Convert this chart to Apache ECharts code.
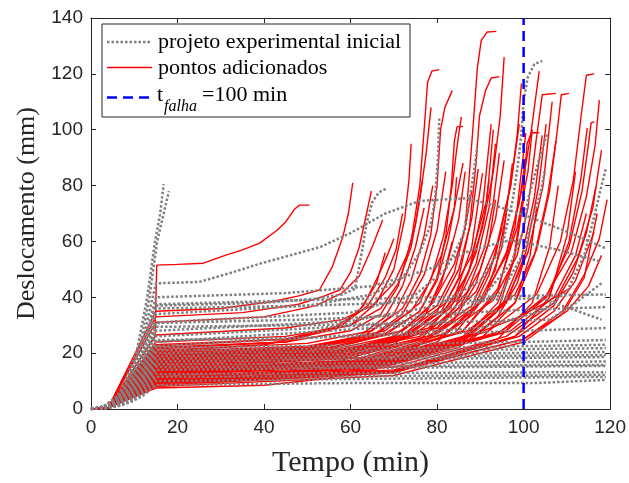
<!DOCTYPE html>
<html><head><meta charset="utf-8">
<script src="https://cdn.jsdelivr.net/npm/echarts@6/dist/echarts.min.js"></script>
<style>html,body{margin:0;padding:0;background:#fff}#c{width:629px;height:483px}</style>
</head><body><div id="c"></div>
<script>
// axis ticks
const xTicks = [0, 20, 40, 60, 80, 100, 120];
const yTicks = [0, 20, 40, 60, 80, 100, 120, 140];
const failureTime = 100;
const legendLabels = ['projeto experimental inicial', 'pontos adicionados', 't', 'falha', '=100 min'];

// initial experimental design (gray dotted), flat [t, y, t, y, ...]
const grayCurves = [
  [0,0, 3,1, 6.5,5, 10.5,20, 13,40, 14.8,60, 16,70, 16.8,80.5],
  [0,0, 3,1, 7,5, 11,20, 13.5,40, 15.3,60, 16.8,70, 18,78],
  [0,0, 3,0.9, 6,4.5, 9,12.2, 12,24.8, 15,45, 25,45.5, 32,48.6, 39,52, 46,55, 53,58, 60,63, 68,70, 76,74.5, 87,75.5, 93,73, 100,69.5, 110,63.5, 119,57.5],
  [0,0, 3,0.74, 6,3.7, 9,10, 12,20.4, 15,37, 40,38, 52,39.5, 58,41, 61,43, 62,51, 62.8,58, 63.7,66.6, 65,74, 66.5,77.5, 68.3,79],
  [0,0, 3,0.68, 6,3.4, 9,9.2, 12,18.7, 15,34, 50,37, 65,41, 72,47, 76,56, 78.5,66, 79.5,75, 80.2,90, 80.5,104],
  [0,0, 3,0.62, 6,3.1, 9,8.4, 12,17, 15,31, 60,34.5, 75,41, 82,50, 86,62, 87.5,75, 88.5,85, 89.3,94],
  [0,0, 3,0.56, 6,2.8, 9,7.6, 12,15.4, 15,28, 60,31.5, 80,37, 90,46, 95,58, 97.5,75, 98.6,86.6, 99.5,98.8, 100,110.6, 101,119, 102.5,123.5, 104.3,124.6],
  [0,0, 3,0.52, 6,2.6, 9,7, 12,14.3, 15,26, 70,30.5, 90,39, 97,52, 100,64, 101,75, 103.3,88, 105.5,99],
  [0,0, 3,0.48, 6,2.4, 9,6.5, 12,13.2, 15,24, 80,30.5, 95,42, 100,56, 102,68, 104,78, 105,86],
  [0,0, 3,0.45, 6,2.25, 9,6.1, 12,12.4, 15,22.5, 90,29, 104,35, 110,42, 114,55, 116.5,70, 118,80, 119,86],
  [0,0, 3,0.8, 6,4, 9,10.8, 12,22, 15,40, 45,41.5, 65,44, 78,50, 88,57, 97,60.5, 108,57, 118,52.7],
  [0,0, 3,0.75, 6,3.75, 9,10.1, 12,20.6, 15,37.5, 50,39, 80,40, 100,40.5, 119,41],
  [0,0, 3,0.72, 6,3.6, 9,9.7, 12,19.8, 15,36, 50,37, 80,38.5, 104,39.7, 118,32],
  [0,0, 3,0.62, 6,3.1, 9,8.3, 12,16.9, 15,30.8, 50,32, 80,34, 100,35.5, 119,36.5],
  [0,0, 3,0.59, 6,2.9, 9,7.9, 12,16.2, 15,29.4, 50,30, 80,31, 106,32, 112,38, 118,45],
  [0,0, 3,0.49, 6,2.5, 9,6.7, 12,13.6, 15,24.7, 50,25.5, 80,27, 100,28, 119,29],
  [0,0, 3,0.44, 6,2.2, 9,5.9, 12,12.1, 15,22, 50,22.5, 80,23.5, 100,24, 119,24.7],
  [0,0, 3,0.42, 6,2.1, 9,5.7, 12,11.6, 15,21, 50,21.5, 80,22, 100,22.5, 119,23],
  [0,0, 3,0.4, 6,2, 9,5.4, 12,11, 15,20, 50,20.5, 80,21, 100,21.4, 119,21.8],
  [0,0, 3,0.38, 6,1.9, 9,5.1, 12,10.5, 15,19, 50,19.4, 80,19.8, 100,20.1, 119,20.4],
  [0,0, 3,0.36, 6,1.8, 9,4.9, 12,9.9, 15,18, 50,18.4, 80,18.8, 100,19.1, 119,19.3],
  [0,0, 3,0.34, 6,1.7, 9,4.6, 12,9.4, 15,17, 50,17.5, 80,18, 100,18.3, 119,18.6],
  [0,0, 3,0.32, 6,1.6, 9,4.3, 12,8.8, 15,16, 50,16.3, 80,16.6, 100,16.8, 119,17],
  [0,0, 3,0.3, 6,1.5, 9,4.1, 12,8.3, 15,15, 50,15.3, 80,15.5, 100,15.7, 119,15.8],
  [0,0, 3,0.28, 6,1.4, 9,3.8, 12,7.7, 15,14, 50,14.5, 80,14.9, 100,15.2, 119,15.4],
  [0,0, 3,0.25, 6,1.25, 9,3.4, 12,6.9, 15,12.5, 50,12.8, 80,13, 100,13.1, 119,13.2],
  [0,0, 3,0.23, 6,1.15, 9,3.1, 12,6.3, 15,11.5, 50,11.7, 80,11.9, 100,12, 119,12.2],
  [0,0, 3,0.2, 6,1, 9,2.7, 12,5.5, 15,10, 50,10.6, 80,11, 100,11.3, 119,11.5],
  [0,0, 3,0.17, 6,0.86, 9,2.3, 12,4.7, 15,8.6, 60,9.3, 103,9.3, 119,10.4]
];

// added points (red), flat [t, y, t, y, ...]
const redCurves = [
  [0,0, 4,0.5, 14.8,26, 15.2,51.5, 20,51.8, 26,52.2, 31,55, 35,57, 39,59.4, 43,64, 45,67, 47,71.5, 48.2,73, 50.5,73],
  [0,0, 4,0.5, 15,35, 30,36, 42,38.5, 48,40.5, 52.8,42.6, 55.8,51, 58.2,61.6, 59.5,70, 60.5,81],
  [0,0, 4,0.5, 15,33, 35,34.5, 48,37.5, 54,40.5, 57.5,42.6, 60,49, 62,58, 63.7,70, 64.8,78],
  [0,0, 4,0.5, 15,31, 40,33, 52,37, 58,41.5, 62,47.5, 65,58, 67.4,67.7],
  [0,0, 4,0.5, 15,26.5, 45,29, 58,32, 65,37, 70,45, 73,55, 75,66, 76.6,82],
  [0,0, 4,0.5, 15,24, 45,26, 60,30, 67,36, 71,45, 74,58, 76,75, 77.5,92, 78.6,108],
  [0,0, 4,0.5, 15,22, 45,24, 60,28, 67,34, 71,44, 74,60, 76,80, 77,100, 77.8,117, 78.8,121, 80.5,121.5],
  [0,0, 4,0.5, 15,21, 50,23.5, 65,28, 72,36, 76,48, 78.5,62, 80,80, 80.8,100, 81.8,108, 83.5,114],
  [0,0, 4,0.5, 15,20.5, 50,22.5, 66,27, 74,35, 78.5,46, 81.5,62, 83.5,80, 84.7,95, 85.6,104.6],
  [0,0, 4,0.5, 15,20, 50,22, 68,27, 76,35, 80,47, 82,62, 83.3,80, 84,96, 84.6,101, 86,101.2],
  [0,0, 4,0.5, 15,19.5, 50,21.5, 68,26.5, 76,35, 80,46, 82.5,60, 84,72, 84.5,83],
  [0,0, 4,0.5, 15,19, 55,22, 72,28, 80,37, 84,49, 86.5,65, 88.2,98.8, 89.3,122, 90.2,132, 91.6,135, 93.7,135.2],
  [0,0, 4,0.5, 15,18.5, 55,21, 73,27, 82,36, 87,48, 90.5,65, 93,85, 94.6,105, 95.5,126],
  [0,0, 4,0.5, 15,18, 55,20.5, 73,26, 81,35, 85,47, 87.5,65, 89,88, 89.8,105, 91.2,114, 92.5,118.5, 94.4,119],
  [0,0, 4,0.5, 15,17.5, 55,20, 74,26, 83,36, 87.5,50, 90.5,72, 92.5,102],
  [0,0, 4,0.5, 15,17, 55,19.5, 76,26, 85,36, 90,50, 93.5,68, 95.5,89],
  [0,0, 4,0.5, 15,16.5, 60,19.5, 78,26, 88,37, 93.5,55, 97,80, 98.5,98, 99.5,116.6],
  [0,0, 4,0.5, 15,16, 60,19, 80,27, 90,38, 96,55, 99.5,78, 101.8,100, 103.6,121],
  [0,0, 4,0.5, 15,15.5, 60,18.5, 82,27, 93,39, 98.5,55, 101,72, 102.8,95, 104.3,112.5, 107.5,113],
  [0,0, 4,0.5, 15,15, 65,18.5, 87,28, 98,41, 103,57, 106,78, 107.8,100, 108.7,112.5, 110.5,113],
  [0,0, 4,0.5, 15,14.5, 70,18, 92,28, 103,41, 108.5,60, 111.5,82, 113.3,105, 114.5,119.5, 116.3,120],
  [0,0, 4,0.5, 15,14, 70,17.5, 94,27, 105,40, 111,56, 114.5,76, 116.5,94, 117.5,110.6],
  [0,0, 4,0.5, 15,13.5, 70,17, 95,28, 105.5,41, 110.5,58, 113.5,78, 115,95, 115.6,102.5, 116.3,102.8],
  [0,0, 4,0.5, 15,13, 65,17, 86,26, 96,39, 101,56, 104.5,80, 106.6,110],
  [0,0, 4,0.5, 15,12.5, 65,16, 86,25, 96,38, 100.5,56, 103.5,80, 105.2,102],
  [0,0, 4,0.5, 15,12, 65,15.5, 86,24.5, 95,37, 99.5,54, 102.5,76, 104.3,98],
  [0,0, 4,0.5, 15,11.5, 65,15, 88,25, 98,38, 102.5,55, 105.5,76, 107.5,96],
  [0,0, 4,0.5, 15,11, 70,15, 96,26, 107,38, 112.5,54, 116,72, 118,92.7],
  [0,0, 4,0.5, 15,10.5, 65,14.5, 86,24, 94,35, 97.5,52, 99.8,75, 100.8,95, 101.8,98.8, 103.6,99],
  [0,0, 4,0.5, 15,10, 70,14, 98,26, 107,37, 111.5,49, 114.5,63, 116.7,79.5],
  [0,0, 4,0.5, 15,9.5, 70,13.5, 99,26, 107,35, 112,46, 116.3,63.4],
  [0,0, 4,0.5, 15,9, 70,13, 100,25, 109,35, 114,48, 117.5,61, 119.3,75],
  [0,0, 4,0.5, 15,7.5, 40,8.5, 55,11, 67,17, 80,23, 90,27.6, 99,33, 105,38, 110.5,43],
  [0,0, 4,0.5, 15,22.5, 45,25, 58,30, 64,37, 68,47, 70.5,57, 72,70],
  [0,0, 4,0.5, 15,21.5, 45,24, 58,30, 63,37, 66.5,48, 68.5,55, 70,61],
  [0,0, 4,0.5, 15,23, 45,25, 60,30, 66,38, 70,50, 72.5,68, 73.5,82, 74,95],
  [0,0, 4,0.5, 15,19, 55,21.5, 72,28, 79,38, 84,52, 86.5,65, 88,78],
  [0,0, 4,0.5, 15,18, 60,21, 78,29, 85,40, 89,56, 91,70, 92,82],
  [0,0, 4,0.5, 15,17, 60,20, 80,29, 87,42, 91,58, 93,74, 94.4,91.6],
  [0,0, 4,0.5, 15,16, 60,19, 78,28, 84,40, 88,58, 90.5,84.5],
  [0,0, 4,0.5, 15,15, 65,18.5, 84,27, 91,40, 95,58, 97.4,88],
  [0,0, 4,0.5, 15,14, 65,17.5, 86,28, 94,42, 98,65, 100.5,98.8],
  [0,0, 4,0.5, 15,13, 70,16.5, 96,28, 106,41, 110.5,60, 113.2,82, 114.7,100.6],
  [0,0, 4,0.5, 15,12, 60,16, 80,25, 89,36, 93.5,50, 96,70],
  [0,0, 4,0.5, 15,11, 65,15, 86,25, 94,38, 98,55, 100,75],
  [0,0, 4,0.5, 15,10, 65,14, 90,25, 98,38, 101.5,55, 103,72],
  [0,0, 4,0.5, 15,9.5, 70,13.5, 94,25, 102,38, 106,58, 108,80],
  [0,0, 4,0.5, 15,9, 70,13, 98,26, 106,40, 110,62, 112,85],
  [0,0, 4,0.5, 15,8.5, 60,12, 85,22, 94,33, 98.5,45, 100.5,55],
  [0,0, 4,0.5, 15,20, 50,22, 68,28, 76,38, 81,55, 84,72, 86,88],
  [0,0, 4,0.5, 15,17.5, 60,20.5, 80,29, 89,42, 94,60, 97,80, 99,102],
  [0,0, 4,0.5, 15,15, 65,18.5, 86,28, 94,43, 98.5,65, 101,85, 102,100],
  [0,0, 4,0.5, 15,8, 70,12, 100,24, 109,34, 114,47, 117,70],
  [0,0, 4,0.5, 15,12.5, 70,16.5, 97,28, 107,40, 112,55, 114.5,70],
  [0,0, 4,0.5, 15,11, 75,15.5, 100,25, 110,35, 115,44, 118,55],
  [0,0, 4,0.5, 15,19, 50,21.5, 62,26, 68,33, 72,44, 75,58, 77,72],
  [0,0, 4,0.5, 15,18.5, 50,21, 63,26, 70,34, 74,46, 77,62, 79,80],
  [0,0, 4,0.5, 15,17.5, 50,20, 64,25, 72,34, 77,48, 80,64, 82,85],
  [0,0, 4,0.5, 15,16.5, 55,19.5, 70,26, 78,36, 82,50, 85,68, 86.5,85],
  [0,0, 4,0.5, 15,14.5, 55,18, 72,25, 80,35, 85,50, 88,68, 89.5,86],
  [0,0, 4,0.5, 15,13.5, 60,17, 76,25, 84,36, 89,52, 92,72, 93.5,95],
  [0,0, 4,0.5, 15,12, 55,16, 70,23, 77,33, 81,45, 83.5,60],
  [0,0, 4,0.5, 15,10.5, 60,14.5, 80,24, 88,35, 92,48, 95,65],
  [0,0, 4,0.5, 15,20.5, 40,23, 55,28, 62,35, 66,45, 68,56],
  [0,0, 4,0.5, 15,9.5, 55,13, 75,22, 84,32, 89,45, 92,60, 93.5,75],
  [0,0, 4,0.5, 15,16, 55,19, 72,26.5, 82,38, 88,55, 91.5,75, 93,100],
  [0,0, 4,0.5, 15,13, 60,16.5, 82,27, 91,40, 96,56, 99,74, 100.5,90]
];

const blueLine = [[failureTime, yTicks[0]], [failureTime, yTicks[yTicks.length - 1]]];

function toPairs(flat) {
  const out = [];
  for (let i = 0; i < flat.length; i += 2) out.push([flat[i], flat[i + 1]]);
  return out;
}

const AX = '#262626';
const series = [];
redCurves.forEach(c => series.push({
  type: 'line', data: toPairs(c), showSymbol: false, symbol: 'none', silent: true,
  animation: false, lineStyle: { color: '#ff0000', width: 1.4 }, z: 2
}));
grayCurves.forEach(c => series.push({
  type: 'line', data: toPairs(c), showSymbol: false, symbol: 'none', silent: true,
  animation: false, lineStyle: { color: '#808080', width: 2.5, type: [2.5, 2] }, z: 3
}));
series.push({
  type: 'line', data: blueLine, showSymbol: false, symbol: 'none', silent: true,
  animation: false, lineStyle: { color: '#0000ff', width: 2.5, type: [10, 6] }, z: 4
});

const axisCommon = {
  type: 'value',
  axisLine: { show: true, onZero: false, lineStyle: { color: AX, width: 1 } },
  axisTick: { show: true, inside: true, length: 5, lineStyle: { color: AX, width: 1 } },
  splitLine: { show: false }
};

const chart = echarts.init(document.getElementById('c'), null, { renderer: 'canvas' });
chart.setOption({
  backgroundColor: '#fff',
  animation: false,
  grid: { left: 91, right: 18, top: 18, bottom: 74, containLabel: false },
  xAxis: [
    Object.assign({}, axisCommon, {
      min: xTicks[0], max: xTicks[xTicks.length - 1], interval: xTicks[1] - xTicks[0], position: 'bottom',
      axisLabel: { fontFamily: 'Liberation Sans', fontSize: 19, color: AX, margin: 9 },
      name: 'Tempo (min)', nameLocation: 'middle', nameGap: 39,
      nameTextStyle: { fontFamily: 'Liberation Serif', fontSize: 30, color: AX }
    }),
    Object.assign({}, axisCommon, {
      min: xTicks[0], max: xTicks[xTicks.length - 1], interval: xTicks[1] - xTicks[0], position: 'top',
      axisLabel: { show: false }
    })
  ],
  yAxis: [
    Object.assign({}, axisCommon, {
      min: yTicks[0], max: yTicks[yTicks.length - 1], interval: yTicks[1] - yTicks[0], position: 'left',
      axisLabel: { fontFamily: 'Liberation Sans', fontSize: 19, color: AX, margin: 8 },
      name: 'Deslocamento (mm)', nameLocation: 'middle', nameGap: 48,
      nameTextStyle: { fontFamily: 'Liberation Serif', fontSize: 26, color: AX }
    }),
    Object.assign({}, axisCommon, {
      min: yTicks[0], max: yTicks[yTicks.length - 1], interval: yTicks[1] - yTicks[0], position: 'right',
      axisLabel: { show: false }
    })
  ],
  series: series,
  graphic: [
    { type: 'rect', z: 100, shape: { x: 102, y: 24, width: 308, height: 93 },
      style: { fill: '#fff', stroke: AX, lineWidth: 1 } },
    { type: 'line', z: 101, shape: { x1: 107, y1: 42, x2: 152, y2: 42 },
      style: { stroke: '#808080', lineWidth: 2.5, lineDash: [2.5, 2] } },
    { type: 'line', z: 101, shape: { x1: 107, y1: 67.5, x2: 152, y2: 67.5 },
      style: { stroke: '#ff0000', lineWidth: 1.4 } },
    { type: 'line', z: 101, shape: { x1: 107, y1: 97.5, x2: 152, y2: 97.5 },
      style: { stroke: '#0000ff', lineWidth: 2.5, lineDash: [10, 6] } },
    { type: 'text', z: 101, x: 158, y: 42,
      style: { text: legendLabels[0], fontFamily: 'Liberation Serif', fontSize: 22, fill: '#000', verticalAlign: 'middle' } },
    { type: 'text', z: 101, x: 158, y: 68,
      style: { text: legendLabels[1], fontFamily: 'Liberation Serif', fontSize: 22, fill: '#000', verticalAlign: 'middle' } },
    { type: 'text', z: 101, x: 157, y: 95,
      style: { text: legendLabels[2], fontFamily: 'Liberation Serif', fontSize: 22, fill: '#000', verticalAlign: 'middle' } },
    { type: 'text', z: 101, x: 164, y: 107,
      style: { text: legendLabels[3], fontFamily: 'Liberation Serif', fontSize: 16, fontStyle: 'italic', fill: '#000', verticalAlign: 'middle' } },
    { type: 'text', z: 101, x: 202, y: 95,
      style: { text: legendLabels[4], fontFamily: 'Liberation Serif', fontSize: 22, fill: '#000', verticalAlign: 'middle' } }
  ]
});
</script>
</body></html>
